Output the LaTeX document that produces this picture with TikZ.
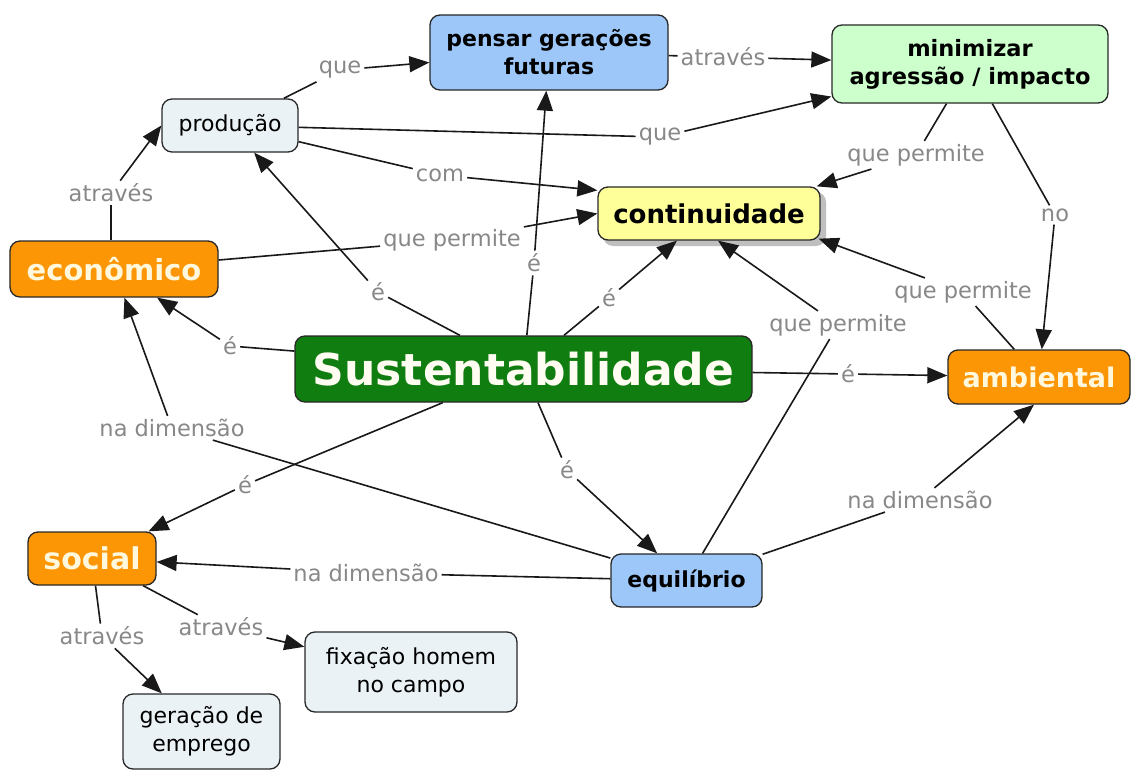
\documentclass[tikz,border=0pt]{standalone}
\usepackage{fontspec}
\setmainfont{DejaVu Sans}
\usetikzlibrary{arrows.meta,calc}
\definecolor{labgray}{RGB}{136,136,136}
\definecolor{cblue}{RGB}{156,199,248}
\definecolor{cgreen}{RGB}{204,255,204}
\definecolor{cpale}{RGB}{234,242,246}
\definecolor{cyellow}{RGB}{255,255,153}
\definecolor{corange}{RGB}{252,150,5}
\definecolor{cdgreen}{RGB}{16,125,16}
\definecolor{ccream}{RGB}{255,248,220}
\definecolor{cborder}{RGB}{40,40,40}
\tikzset{
  box/.style={draw=cborder, line width=1.3bp, rounded corners=10bp, align=center, inner sep=0pt, font=\fontsize{22bp}{28bp}\selectfont},
  lab/.style={text=labgray, inner sep=3bp, font=\fontsize{22.5bp}{26bp}\selectfont},
  link/.style={line width=1.6bp, draw=black!90},
  arr/.style={link, -{Triangle[length=20bp,width=16bp]}},
}
\begin{document}
\begin{tikzpicture}[x=1bp,y=-1bp]
\useasboundingbox[fill=white] (0,0) rectangle (1131,771);
% nodes
\node[box, fill=cblue, minimum width=238bp, minimum height=75bp, font=\fontsize{22bp}{28bp}\selectfont\bfseries] (pensar) at (549,52.5) {pensar gerações\\futuras};
\node[box, fill=cgreen, minimum width=276bp, minimum height=78bp, font=\fontsize{22.5bp}{28bp}\selectfont\bfseries] (minim) at (970,64) {minimizar\\agressão / impacto};
\node[box, fill=cpale, minimum width=136bp, minimum height=53bp] (prod) at (230,125.5) {produção};
\fill[black!25, rounded corners=10bp] (603,192) rectangle (826,246);
\node[box, fill=cyellow, minimum width=222bp, minimum height=53bp, font=\fontsize{26bp}{30bp}\selectfont\bfseries] (cont) at (709,213.5) {continuidade};
\node[box, fill=corange, text=ccream, minimum width=208bp, minimum height=56bp, font=\fontsize{29bp}{32bp}\selectfont\bfseries] (econ) at (114,269) {econômico};
\node[box, fill=cdgreen, text=ccream!40!white, minimum width=457bp, minimum height=66bp, font=\fontsize{44bp}{48bp}\selectfont\bfseries] (sust) at (523.5,369) {Sustentabilidade};
\node[box, fill=corange, text=ccream, minimum width=182bp, minimum height=54bp, font=\fontsize{27bp}{30bp}\selectfont\bfseries] (amb) at (1039,377) {ambiental};
\node[box, fill=corange, text=ccream, minimum width=128bp, minimum height=53bp, font=\fontsize{30bp}{32bp}\selectfont\bfseries] (social) at (92,558.5) {social};
\node[box, fill=cblue, minimum width=151bp, minimum height=53bp, font=\fontsize{22bp}{28bp}\selectfont\bfseries] (equil) at (686.5,580.5) {equilíbrio};
\node[box, fill=cpale, minimum width=212bp, minimum height=80bp] (fix) at (411,672) {fixação homem\\no campo};
\node[box, fill=cpale, minimum width=157bp, minimum height=75bp] (ger) at (201.5,731.5) {geração de\\emprego};
% labels
\node[lab] (l1) at (340,70) {que};
\node[lab] (l2) at (723,57) {através};
\node[lab] (l3) at (660,137) {que};
\node[lab] (l4) at (440,175) {com};
\node[lab] (l5) at (111,193) {através};
\node[lab] (l6) at (452,240) {que permite};
\node[lab] (l7) at (378,292) {é};
\node[lab] (l8) at (534,263) {é};
\node[lab] (l9) at (609,298) {é};
\node[lab] (l10) at (230,346) {é};
\node[lab] (l11) at (848,374) {é};
\node[lab] (l12) at (245,485) {é};
\node[lab] (l13) at (567,470) {é};
\node[lab] (l14) at (916,155) {que permite};
\node[lab] (l15) at (1055,215) {no};
\node[lab] (l16) at (963,292) {que permite};
\node[lab] (l17) at (838,325) {que permite};
\node[lab] (l18) at (920,500) {na dimensão};
\node[lab] (l19) at (366,573) {na dimensão};
\node[lab] (l20) at (172,428) {na dimensão};
\node[lab] (l21) at (102,636) {através};
\node[lab] (l22) at (221,627) {através};
% connectors
\draw[link] (prod) -- (l1); \draw[arr] (l1) -- (pensar);
\draw[link] (pensar) -- (l2); \draw[arr] (l2) -- (minim);
\draw[link] (prod) -- (l3); \draw[arr] (l3) -- (minim);
\draw[link] (prod) -- (l4); \draw[arr] (l4) -- ($(cont.north west)+(0,4)$);
\draw[link] (econ.north -| l5) -- (l5); \draw[arr] (l5) -- (prod.west);
\draw[link] (econ) -- (l6); \draw[arr] (l6) -- (cont.west);
\draw[link] (sust) -- (l7); \draw[arr] (l7) -- (prod);
\draw[link] (sust) -- (l8); \draw[arr] (l8) -- (pensar);
\draw[link] (sust) -- (l9); \draw[arr] (l9) -- (cont);
\draw[link] (sust) -- (l10); \draw[arr] (l10) -- (econ);
\draw[link] (sust) -- (l11); \draw[arr] (l11) -- (amb);
\draw[link] (sust) -- (l12); \draw[arr] (l12) -- (social);
\draw[link] (sust) -- (l13); \draw[arr] (l13) -- (equil);
\draw[link] (minim) -- (l14); \draw[arr] (l14) -- ($(cont.north east)+(-4,0)$);
\draw[link] (minim) -- (l15); \draw[arr] (l15) -- (amb);
\draw[link] (amb) -- (l16); \draw[arr] (l16) -- ($(cont.south east)+(-2,-2)$);
\draw[link] (equil) -- (l17); \draw[arr] (l17) -- ($(cont.south)+(9,0)$);
\draw[link] (equil) -- (l18); \draw[arr] (l18) -- ($(amb.south)+(-5,0)$);
\draw[link] (equil) -- (l19); \draw[arr] (l19) -- (social);
\draw[link] (equil) -- (l20); \draw[arr] (l20) -- (econ);
\draw[link] (social) -- (l21); \draw[arr] (l21) -- (ger);
\draw[link] (social) -- (l22); \draw[arr] (l22) -- (fix);
\end{tikzpicture}
\end{document}
